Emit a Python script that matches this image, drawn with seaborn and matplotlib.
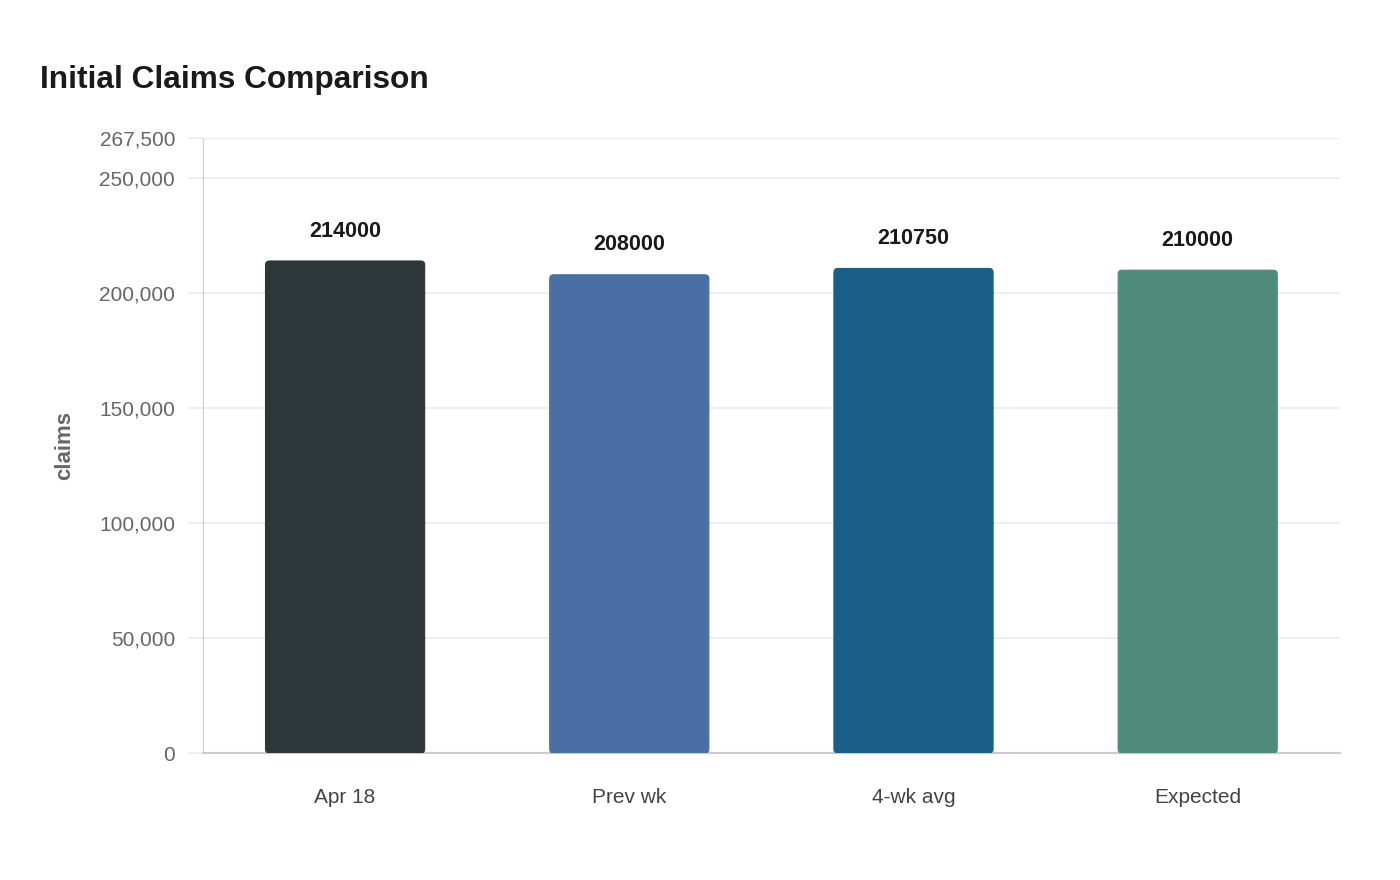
import numpy as np
import pandas as pd
import matplotlib
matplotlib.use("Agg")
import matplotlib.pyplot as plt
import seaborn as sns
from matplotlib.patches import FancyBboxPatch

# data
categories = ["Apr 18", "Prev wk", "4-wk avg", "Expected"]
claims = [214000, 208000, 210750, 210000]
bar_colors = ["#2d3638", "#4a6fa5", "#1a5f87", "#4f8c7b"]
ytick_values = [0, 50000, 100000, 150000, 200000, 250000, 267500]

df = pd.DataFrame({"label": categories, "claims": claims})

sns.set_theme(style="white")
plt.rcParams["font.family"] = ["Liberation Sans", "DejaVu Sans"]

fig = plt.figure(figsize=(14, 8.8), dpi=100)
ax = fig.add_axes([0.145, 0.1443, 0.812, 0.6989])

sns.barplot(data=df, x="label", y="claims", hue="label", palette=bar_colors,
            width=0.56, legend=False, ax=ax, saturation=1)

ax.set_xlim(-0.5, len(categories) - 0.5)
ax.set_ylim(0, ytick_values[-1])
ax.set_yticks(ytick_values)
ax.set_yticklabels([f"{v:,}" for v in ytick_values])

# rounded bar tops
fig.canvas.draw()
bbox = ax.get_window_extent()
x_per_px = (ax.get_xlim()[1] - ax.get_xlim()[0]) / bbox.width
y_per_px = (ax.get_ylim()[1] - ax.get_ylim()[0]) / bbox.height
aspect = y_per_px / x_per_px
for p in list(ax.patches):
    x0, y0 = p.get_x(), p.get_y()
    w, h = p.get_width(), p.get_height()
    fc = p.get_facecolor()
    p.remove()
    rp = FancyBboxPatch((x0, y0), w, h,
                        boxstyle=f"round,pad=0,rounding_size={4 * x_per_px}",
                        mutation_aspect=aspect, facecolor=fc,
                        edgecolor=fc, linewidth=0.8, zorder=3)
    ax.add_patch(rp)

for i, v in enumerate(claims):
    ax.annotate(str(v), xy=(i, v), xytext=(0, 14), textcoords="offset points",
                ha="center", va="bottom", fontsize=15.5, fontweight="bold",
                color="#1a1a1a")

ax.yaxis.grid(True, color="#ebebeb", linewidth=1.2, zorder=0)
ax.set_axisbelow(True)
ax.tick_params(axis="y", left=True, length=11, width=1.2, color="#ebebeb",
               labelsize=15, labelcolor="#666666", pad=9)
ax.tick_params(axis="x", bottom=False, length=0, labelsize=15,
               labelcolor="#444444", pad=25)

for s in ["top", "right"]:
    ax.spines[s].set_visible(False)
ax.spines["left"].set_color("#d0d0d0")
ax.spines["left"].set_linestyle((0, (1, 1)))
ax.spines["left"].set_linewidth(0.8)
ax.spines["bottom"].set_color("#cccccc")
ax.spines["bottom"].set_linewidth(1.5)

ax.set_xlabel("")
ax.set_ylabel("claims", fontsize=16, fontweight="bold", color="#666666",
              labelpad=17)

fig.text(40 / 1400, 1 - 80 / 880, "Initial Claims Comparison", fontsize=22.8,
         fontweight="bold", color="#1a1a1a", ha="left", va="center")

fig.savefig("out.png", dpi=100, facecolor="white")
